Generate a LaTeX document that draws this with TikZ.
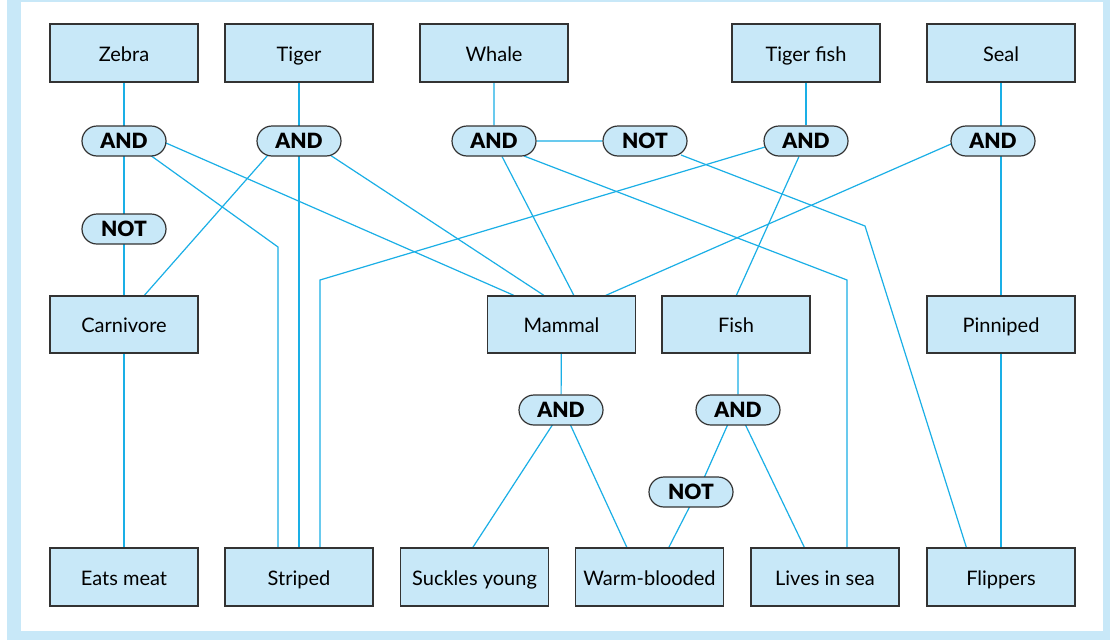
\documentclass[tikz,border=0pt]{standalone}
\usepackage{fontspec}
\setmainfont{Lato}
\newfontfamily\gatefont{Lato Black}
\usetikzlibrary{shapes.misc,calc}
\pgfdeclarelayer{frame}
\pgfdeclarelayer{bg}
\pgfsetlayers{frame,bg,main}
\definecolor{boxfill}{HTML}{C8E8F8}
\definecolor{outline}{HTML}{333333}
\definecolor{wirecol}{HTML}{1AAFE6}
\begin{document}
\begin{tikzpicture}[x=1pt,y=-1pt,
  concept/.style={draw=outline, line width=1.3pt, fill=boxfill,
    minimum width=148pt, minimum height=58pt, inner sep=0pt,
    text height=16pt, text depth=0pt,
    font=\fontsize{20}{22}\selectfont},
  gate/.style={rounded rectangle, draw=outline, line width=1.2pt, fill=boxfill,
    minimum width=84pt, minimum height=30pt, inner sep=0pt,
    text height=15pt, text depth=0pt,
    font=\fontsize{21}{24}\gatefont},
  wire/.style={draw=wirecol, line width=1.2pt}]

% page and frame
\useasboundingbox (0,0) rectangle (1110,640);
\begin{pgfonlayer}{frame}
  \fill[white] (0,0) rectangle (1110,640);
  \fill[boxfill] (7,0) rectangle (1110,640);
  \fill[white] (21,2) rectangle (1103,631);
\end{pgfonlayer}

% top row
\node[concept] (zebra)     at (124,53)  {Zebra};
\node[concept] (tiger)     at (299,53)  {Tiger};
\node[concept] (whale)     at (494,53)  {Whale};
\node[concept] (tigerfish) at (806,53)  {Tiger fish};
\node[concept] (seal)      at (1001,53) {Seal};

% middle row
\node[concept, minimum height=57pt] (carnivore) at (124,324.5)  {Carnivore};
\node[concept, minimum height=57pt] (mammal)    at (561.5,324.5) {Mammal};
\node[concept, minimum height=57pt] (fish)      at (736,324.5)  {Fish};
\node[concept, minimum height=57pt] (pinniped)  at (1001,324.5) {Pinniped};

% bottom row
\node[concept] (eats)     at (124,577)   {Eats meat};
\node[concept] (striped)  at (299,577)   {Striped};
\node[concept] (suckles)  at (474.5,577) {Suckles young};
\node[concept] (warm)     at (649.5,577) {Warm-blooded};
\node[concept] (lives)    at (825,577)   {Lives in sea};
\node[concept] (flippers) at (1001,577)  {Flippers};

% logic gates
\node[gate] (andz)  at (124,141) {AND};
\node[gate] (andt)  at (299,141) {AND};
\node[gate] (andw)  at (494,141) {AND};
\node[gate] (notw)  at (645,141) {NOT};
\node[gate] (andtf) at (806,141) {AND};
\node[gate] (ands)  at (993,141) {AND};
\node[gate] (notz)  at (124,229) {NOT};
\node[gate] (andm)  at (561,410) {AND};
\node[gate] (andf)  at (738,410) {AND};
\node[gate] (notf)  at (691,492) {NOT};

% bends of the routed wires
\coordinate (kz)  at (278,247);
\coordinate (kw)  at (847,280);
\coordinate (kn)  at (865,226);
\coordinate (ktf) at (320,280);

\begin{pgfonlayer}{bg}
  % straight vertical runs
  \draw[wire] (zebra) -- (eats);
  \draw[wire] (tiger) -- (striped);
  \draw[wire] (whale) -- (andw) -- (notw);
  \draw[wire] (tigerfish) -- (andtf);
  \draw[wire] (seal) -- (flippers);
  \draw[wire] (mammal) -- (andm);
  \draw[wire] (fish.south -| andf) -- (andf);

  % zebra
  \draw[wire] ($(andz)+(42,2)$) -- ($(mammal.north west)+(27,0)$);
  \draw[wire] ($(andz)+(26,14)$) -- (kz) -- (kz |- striped.north);
  % tiger
  \draw[wire] ($(andt)+(-31,14)$) -- ($(carnivore.north west)+(95,0)$);
  \draw[wire] ($(andt)+(31,14)$) -- ($(mammal.north west)+(57,0)$);
  % whale
  \draw[wire] (andw) -- ($(mammal.north west)+(87,0)$);
  \draw[wire] ($(andw)+(30,15)$) -- (kw) -- (kw |- lives.north);
  \draw[wire] ($(notw)+(36,14)$) -- (kn) -- ($(flippers.north west)+(40,0)$);
  % tiger fish
  \draw[wire] ($(andtf)+(-41,6)$) -- (ktf) -- (ktf |- striped.north);
  \draw[wire] (andtf) -- ($(fish.north west)+(75,0)$);
  % seal
  \draw[wire] ($(ands)+(-42,3)$) -- ($(mammal.north west)+(119,0)$);
  % mammal
  \draw[wire] ($(andm)+(-8,14)$) -- ($(suckles.north west)+(73,0)$);
  \draw[wire] ($(andm)+(9,14)$) -- ($(warm.north west)+(52,0)$);
  % fish
  \draw[wire] ($(andf)+(-10,14)$) -- ($(notf)+(13,-14)$);
  \draw[wire] ($(notf)+(-1,14)$) -- ($(warm.north west)+(94,0)$);
  \draw[wire] ($(andf)+(7,14)$) -- ($(lives.north west)+(54,0)$);
\end{pgfonlayer}
\end{tikzpicture}
\end{document}
